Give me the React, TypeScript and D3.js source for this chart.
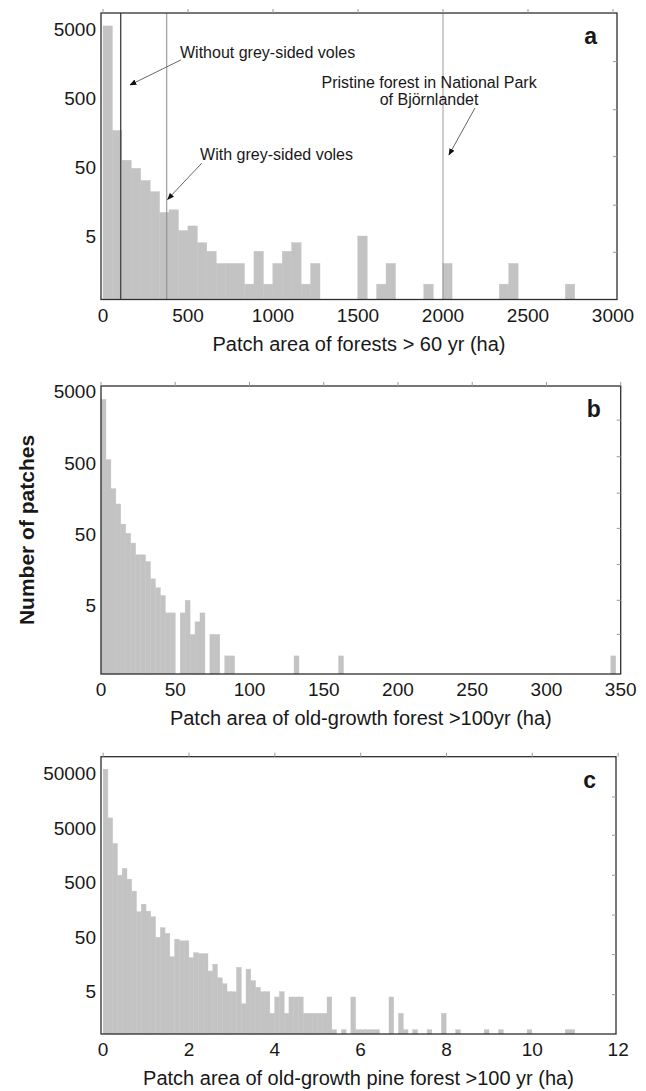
import React from "react";
import * as d3 from "d3";

const FONT = "'Liberation Sans', Arial, Helvetica, sans-serif";
const BAR_FILL = "#c3c3c3";
const FRAME = "#2e2e2e";
const TEXT = "#181818";

// panel a: patch area of forests > 60 yr, bins of 55.5 ha
const binWidthA = 55.5;
const countsA = [
  5600, 170, 63, 48, 32, 22, 11, 12, 6, 7, 4, 3, 2, 2, 2, 1, 3, 1, 2, 3, 4, 1, 2, 0, 0,
  0, 0, 5, 0, 1, 2, 0, 0, 0, 1, 0, 2, 0, 0, 0, 0, 0, 1, 2, 0, 0, 0, 0, 0, 1,
];
const xTicksA = [0, 500, 1000, 1500, 2000, 2500, 3000];
const yTicksA = [5, 50, 500, 5000];
const rightTicksA = [2.9, 14, 71, 340, 1700];
const refLinesA = [104, 375, 2000];

// panel b: old-growth forest > 100 yr, bins of 3.33 ha
const binWidthB = 10 / 3;
const countsB = [
  3900, 560, 220, 134, 70, 52, 38, 26, 26, 21, 12, 9, 7, 4, 4, 0, 4, 6, 2, 3, 4, 0, 2, 2, 0, 1, 1,
];
const tailBinsB = [39, 48, 103];
const tailCountsB = [1, 1, 1];
const xTicksB = [0, 50, 100, 150, 200, 250, 300, 350];
const yTicksB = [5, 50, 500, 5000];
const rightTicksB = [2, 6, 19, 61, 190, 615, 2000];

// panel c: old-growth pine forest > 100 yr, bins of 0.111 ha
const binWidthC = 0.111;
const countsC = [
  61000, 7800, 2640, 690, 920, 585, 352, 147, 203, 151, 119, 50, 75, 59, 22, 46, 43, 43, 21, 26,
  25, 25, 12, 16, 9, 7, 5, 5, 14, 3, 13, 8, 6, 5, 5, 2, 4, 5, 2, 4, 4, 4, 2, 2, 2, 2, 2, 4, 1, 0,
  1, 0, 4, 1, 1, 1, 1, 1, 0, 0, 4, 0, 2, 1, 0, 1,
];
const tailBinsC = [68, 71, 74, 80, 83, 89, 97, 98];
const tailCountsC = [1, 2, 1, 1, 1, 1, 1, 1];
const xTicksC = [0, 2, 4, 6, 8, 10, 12];
const yTicksC = [5, 50, 500, 5000, 50000];
const rightTicksC = [4.4, 24, 128, 690, 3750, 18900];

type Scale = d3.ScaleLinear<number, number>;
type LogScale = d3.ScaleLogarithmic<number, number>;

type PanelProps = {
  left: number;
  right: number;
  top: number;
  bottom: number;
  xDomain: [number, number];
  yDomain: [number, number];
  binWidth: number;
  counts: number[];
  tailBins?: number[];
  tailCounts?: number[];
  xTicks: number[];
  yTicks: number[];
  rightTicks: number[];
  letter: string;
  xTitle: string;
  extra?: (x: Scale, y: LogScale) => React.ReactNode;
};

function Panel(p: PanelProps) {
  const x = d3.scaleLinear().domain(p.xDomain).range([p.left, p.right]);
  const y = d3.scaleLog().domain(p.yDomain).range([p.bottom, p.top]);

  const bins = d3.range(p.counts.length).concat(p.tailBins || []);
  const counts = p.counts.concat(p.tailCounts || []);
  const bars = bins
    .map((b, i) => ({ start: b * p.binWidth, count: counts[i] }))
    .filter((d) => d.count > 0);

  return (
    <g fontFamily={FONT} fill={TEXT}>
      {bars.map((d, i) => (
        <rect
          key={i}
          x={x(d.start)}
          width={x(d.start + p.binWidth) - x(d.start)}
          y={y(d.count)}
          height={p.bottom - y(d.count)}
          fill={BAR_FILL}
          stroke={BAR_FILL}
          strokeWidth={0.4}
        />
      ))}
      {p.extra && p.extra(x, y)}
      <rect
        x={p.left}
        y={p.top}
        width={p.right - p.left}
        height={p.bottom - p.top}
        fill="none"
        stroke={FRAME}
        strokeWidth={1.3}
      />
      {/* top ticks mirror the bottom axis */}
      {p.xTicks.map((t) => (
        <line key={"tt" + t} x1={x(t)} x2={x(t)} y1={p.top} y2={p.top - 4} stroke="#999" strokeWidth={1} />
      ))}
      {p.rightTicks.map((t) => (
        <line key={"rt" + t} x1={p.right} x2={p.right - 4} y1={y(t)} y2={y(t)} stroke="#999" strokeWidth={1} />
      ))}
      {p.yTicks.map((t) => (
        <text key={"yl" + t} x={p.left - 5} y={y(t)} textAnchor="end" dominantBaseline="central" fontSize={19}>
          {t}
        </text>
      ))}
      {p.xTicks.map((t) => (
        <text key={"xl" + t} x={x(t)} y={p.bottom + 22} textAnchor="middle" fontSize={19}>
          {t}
        </text>
      ))}
      <text x={(p.left + p.right) / 2} y={p.bottom + 51} textAnchor="middle" fontSize={20}>
        {p.xTitle}
      </text>
      <text x={p.right - 20} y={p.top + 31} textAnchor="end" fontSize={23} fontWeight="bold">
        {p.letter}
      </text>
    </g>
  );
}

function annotationsA(x: Scale, y: LogScale) {
  const arrow = (x1: number, y1: number, x2: number, y2: number) => (
    <line
      x1={x(x1)}
      y1={y(y1)}
      x2={x(x2)}
      y2={y(y2)}
      stroke="#666"
      strokeWidth={1}
      markerEnd="url(#arrowhead)"
    />
  );
  const colors = ["#4a4a4a", "#8a8a8a", "#9a9a9a"];
  return (
    <g>
      {refLinesA.map((v, i) => (
        <line
          key={v}
          x1={x(v)}
          x2={x(v)}
          y1={y.range()[0]}
          y2={y.range()[1]}
          stroke={colors[i]}
          strokeWidth={i === 0 ? 1.4 : 1}
        />
      ))}
      <text x={x(453)} y={y(1915)} fontSize={16}>Without grey-sided voles</text>
      {arrow(459, 1800, 159, 780)}
      <text x={x(571)} y={y(63)} fontSize={16}>With grey-sided voles</text>
      {arrow(581, 57, 380, 17)}
      <text x={x(1918)} y={y(703)} fontSize={16} textAnchor="middle">Pristine forest in National Park</text>
      <text x={x(1918)} y={y(398)} fontSize={16} textAnchor="middle">of Björnlandet</text>
      {arrow(2188, 360, 2035, 75)}
    </g>
  );
}

export default function App() {
  return (
    <svg
      width={646}
      height={1091}
      style={{ position: "absolute", left: 0, top: 0, background: "#fff" }}
    >
      <defs>
        <marker id="arrowhead" viewBox="0 0 10 10" refX={9} refY={5} markerWidth={7} markerHeight={7} orient="auto">
          <path d="M0,1 L10,5 L0,9 Z" fill="#111" />
        </marker>
      </defs>
      <Panel
        left={101}
        right={617}
        top={13}
        bottom={299.5}
        xDomain={[-11.8, 3023.5]}
        yDomain={[0.599, 8620]}
        binWidth={binWidthA}
        counts={countsA}
        xTicks={xTicksA}
        yTicks={yTicksA}
        rightTicks={rightTicksA}
        letter="a"
        xTitle="Patch area of forests > 60 yr (ha)"
        extra={annotationsA}
      />
      <Panel
        left={101}
        right={620.7}
        top={386}
        bottom={674}
        xDomain={[0, 350]}
        yDomain={[0.558, 6010]}
        binWidth={binWidthB}
        counts={countsB}
        tailBins={tailBinsB}
        tailCounts={tailCountsB}
        xTicks={xTicksB}
        yTicks={yTicksB}
        rightTicks={rightTicksB}
        letter="b"
        xTitle="Patch area of old-growth forest >100yr (ha)"
      />
      <Panel
        left={101}
        right={616}
        top={756.7}
        bottom={1034}
        xDomain={[-0.05, 11.95]}
        yDomain={[0.835, 103900]}
        binWidth={binWidthC}
        counts={countsC}
        tailBins={tailBinsC}
        tailCounts={tailCountsC}
        xTicks={xTicksC}
        yTicks={yTicksC}
        rightTicks={rightTicksC}
        letter="c"
        xTitle="Patch area of old-growth pine forest >100 yr (ha)"
      />
      <text
        transform="translate(26,530) rotate(-90)"
        textAnchor="middle"
        dominantBaseline="central"
        fontFamily={FONT}
        fontSize={21}
        fontWeight="bold"
        fill={TEXT}
      >
        Number of patches
      </text>
    </svg>
  );
}
